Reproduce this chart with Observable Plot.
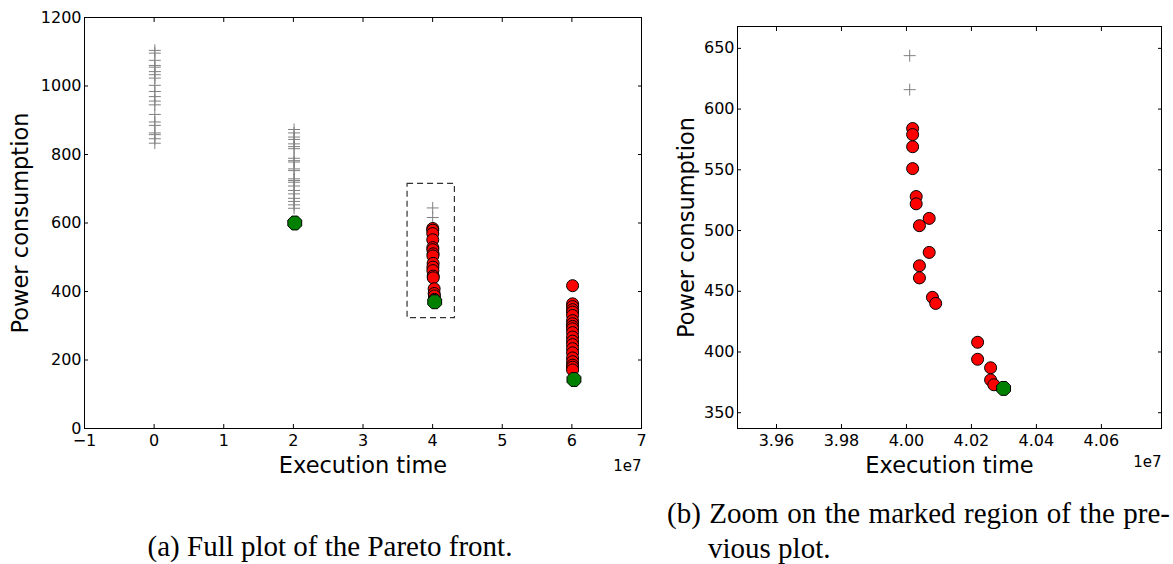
<!DOCTYPE html>
<html>
<head>
<meta charset="utf-8">
<script src="https://cdn.jsdelivr.net/npm/d3@7"></script>
<script src="https://cdn.jsdelivr.net/npm/@observablehq/plot@0.6"></script>
<style>
  html, body { margin: 0; padding: 0; background: #fff; }
  body { width: 1173px; height: 564px; position: relative; overflow: hidden; }
  #a { position: absolute; left: 0; top: 0; }
  #b { position: absolute; left: 660px; top: 0; }
  .cap { position: absolute; font-family: "Liberation Serif", "Times New Roman", serif; font-size: 29px; color: #000; }
  #capA { left: 0; width: 660px; top: 528px; line-height: 36px; text-align: center; }
  #capB { left: 667px; width: 503px; top: 496px; line-height: 35px; text-align: justify; padding-left: 41px; text-indent: -41px; box-sizing: border-box; }
</style>
</head>
<body>
<div id="a"></div>
<div id="b"></div>
<div class="cap" id="capA">(a) Full plot of the Pareto front.</div>
<div class="cap" id="capB">(b) Zoom on the marked region of the pre-vious plot.</div>
<script>
// ---------- data (execution time in raw units, power consumption) ----------
// group at ~0e7 : dominated points only (plus markers)
const group0X = 0.01e7;
const plus0Y = [1104, 1096, 1075, 1060, 1055, 1042, 1033, 1023, 1002, 984, 969, 956, 945, 917, 895, 885, 863, 858, 846, 833];
// group at ~2e7
const group2X = 2.01e7;
const plus2Y = [873, 863, 851, 844, 831, 823, 817, 789, 782, 778, 758, 753, 729, 724, 719, 708, 695, 685, 672, 663, 653, 643];
const green2X = [2.02e7];
const green2Y = [600];
// group at ~4e7 (also the zoomed region)
const plus4X = [4.0010e7, 4.0010e7];
const plus4Y = [644, 616];
const red4X = [4.0019e7, 4.0019e7, 4.0019e7, 4.0019e7, 4.0030e7, 4.0030e7, 4.0070e7, 4.0040e7, 4.0070e7, 4.0040e7, 4.0040e7, 4.0080e7, 4.0090e7, 4.0219e7, 4.0219e7, 4.0259e7, 4.0259e7, 4.0269e7];
const red4Y = [584, 579, 569, 551, 528, 522, 510, 504, 482, 471, 461, 445, 440, 408, 394, 387, 377, 373];
const green4X = [4.0299e7];
const green4Y = [370];
// group at ~6e7
const group6X = 6.01e7;
const red6Y = [417, 364, 356, 347, 340, 330, 315, 306, 298, 291, 280, 267, 255, 245, 233, 221, 206, 195, 185, 179, 171];
const green6X = [6.03e7];
const green6Y = [143];
// marked (zoom) region drawn on the full plot
const zoomBox = [{x1: 3.64e7, x2: 4.32e7, y1: 322, y2: 714}];

// tick values
const xTicksA = [-1, 0, 1, 2, 3, 4, 5, 6, 7];
const yTicksA = [0, 200, 400, 600, 800, 1000, 1200];
const xTicksB = [3.96, 3.98, 4.00, 4.02, 4.04, 4.06];
const yTicksB = [350, 400, 450, 500, 550, 600, 650];

// ---------- tables ----------
const plusAll = [
  ...plus0Y.map(y => ({x: group0X, y})),
  ...plus2Y.map(y => ({x: group2X, y})),
  ...plus4Y.map((y, i) => ({x: plus4X[i], y}))
];
const redAll = [
  ...red4Y.map((y, i) => ({x: red4X[i], y})),
  ...red6Y.map(y => ({x: group6X, y}))
];
const greenAll = [
  ...green2Y.map((y, i) => ({x: green2X[i], y})),
  ...green4Y.map((y, i) => ({x: green4X[i], y})),
  ...green6Y.map((y, i) => ({x: green6X[i], y}))
];
const plusZoom = plus4Y.map((y, i) => ({x: plus4X[i], y}));
const redZoom = red4Y.map((y, i) => ({x: red4X[i], y}));
const greenZoom = green4Y.map((y, i) => ({x: green4X[i], y}));

// ---------- symbols ----------
const plusSym = {
  draw(ctx, size) {
    const r = Math.sqrt(size / Math.PI);
    ctx.moveTo(-r, 0); ctx.lineTo(r, 0);
    ctx.moveTo(0, -r); ctx.lineTo(0, r);
  }
};
const octagon = {
  draw(ctx, size) {
    const r = Math.sqrt(size / Math.PI);
    for (let i = 0; i < 8; i++) {
      const a = Math.PI / 8 + i * Math.PI / 4;
      const px = r * Math.cos(a), py = r * Math.sin(a);
      if (i) ctx.lineTo(px, py); else ctx.moveTo(px, py);
    }
    ctx.closePath();
  }
};

const minus = s => String(s).replace("-", "\u2212");
const blank = () => "";
const baseStyle = {fontFamily: "DejaVu Sans", fontSize: "16px", color: "#000", background: "#fff", overflow: "visible"};

function axes(xt, yt, xfmt) {
  return [
    Plot.axisX(xt, {anchor: "bottom", tickSize: -4, tickPadding: 10, tickFormat: xfmt, label: null, stroke: "#000", strokeWidth: 1, fontSize: 16}),
    Plot.axisX(xt, {anchor: "top", tickSize: -4, tickPadding: 0, tickFormat: blank, label: null, stroke: "#000", strokeWidth: 1}),
    Plot.axisY(yt, {anchor: "left", tickSize: -4, tickPadding: 7, tickFormat: d => minus(d), label: null, stroke: "#000", strokeWidth: 1, fontSize: 16}),
    Plot.axisY(yt, {anchor: "right", tickSize: -4, tickPadding: 0, tickFormat: blank, label: null, stroke: "#000", strokeWidth: 1}),
    Plot.frame({stroke: "#000", strokeWidth: 1})
  ];
}

// ---------- (a) full plot ----------
const chartA = Plot.plot({
  width: 660, height: 480,
  marginLeft: 84, marginRight: 19, marginTop: 17, marginBottom: 52,
  x: {domain: [-1e7, 7e7]},
  y: {domain: [0, 1200]},
  style: baseStyle,
  marks: [
    ...axes(xTicksA.map(d => d * 1e7), yTicksA, d => minus(Math.round(d / 1e7))),
    Plot.rect(zoomBox, {x1: "x1", x2: "x2", y1: "y1", y2: "y2", fill: "none", stroke: "#333", strokeWidth: 1.2, strokeDasharray: "6,4"}),
    Plot.dot(plusAll, {x: "x", y: "y", symbol: plusSym, r: 6, fill: "none", stroke: "#808080", strokeWidth: 1}),
    Plot.dot(redAll, {x: "x", y: "y", symbol: "circle", r: 6, fill: "#ff0000", stroke: "#000", strokeWidth: 1}),
    Plot.dot(greenAll, {x: "x", y: "y", symbol: octagon, r: 7.5, fill: "#008000", stroke: "#000", strokeWidth: 1}),
    Plot.text(["Execution time"], {frameAnchor: "bottom", dy: 44, textAnchor: "middle", fontSize: 22.5, fill: "#000"}),
    Plot.text(["Power consumption"], {frameAnchor: "left", dx: -64, textAnchor: "middle", rotate: -90, fontSize: 22.5, fill: "#000"}),
    Plot.text(["1e7"], {frameAnchor: "bottom-right", dy: 42, textAnchor: "end", fontSize: 15, fill: "#000"})
  ]
});
document.getElementById("a").append(chartA);

// ---------- (b) zoom ----------
const chartB = Plot.plot({
  width: 513, height: 480,
  marginLeft: 77, marginRight: 12, marginTop: 26, marginBottom: 52,
  x: {domain: [3.948e7, 4.0785e7]},
  y: {domain: [337, 668]},
  style: baseStyle,
  marks: [
    ...axes(xTicksB.map(d => Math.round(d * 1e7)), yTicksB, d => (d / 1e7).toFixed(2)),
    Plot.dot(plusZoom, {x: "x", y: "y", symbol: plusSym, r: 6, fill: "none", stroke: "#808080", strokeWidth: 1}),
    Plot.dot(redZoom, {x: "x", y: "y", symbol: "circle", r: 6, fill: "#ff0000", stroke: "#000", strokeWidth: 1}),
    Plot.dot(greenZoom, {x: "x", y: "y", symbol: octagon, r: 7.5, fill: "#008000", stroke: "#000", strokeWidth: 1}),
    Plot.text(["Execution time"], {frameAnchor: "bottom", dy: 44, textAnchor: "middle", fontSize: 22.5, fill: "#000"}),
    Plot.text(["Power consumption"], {frameAnchor: "left", dx: -51, textAnchor: "middle", rotate: -90, fontSize: 22.5, fill: "#000"}),
    Plot.text(["1e7"], {frameAnchor: "bottom-right", dy: 38, textAnchor: "end", fontSize: 15, fill: "#000"})
  ]
});
document.getElementById("b").append(chartB);
</script>
</body>
</html>
